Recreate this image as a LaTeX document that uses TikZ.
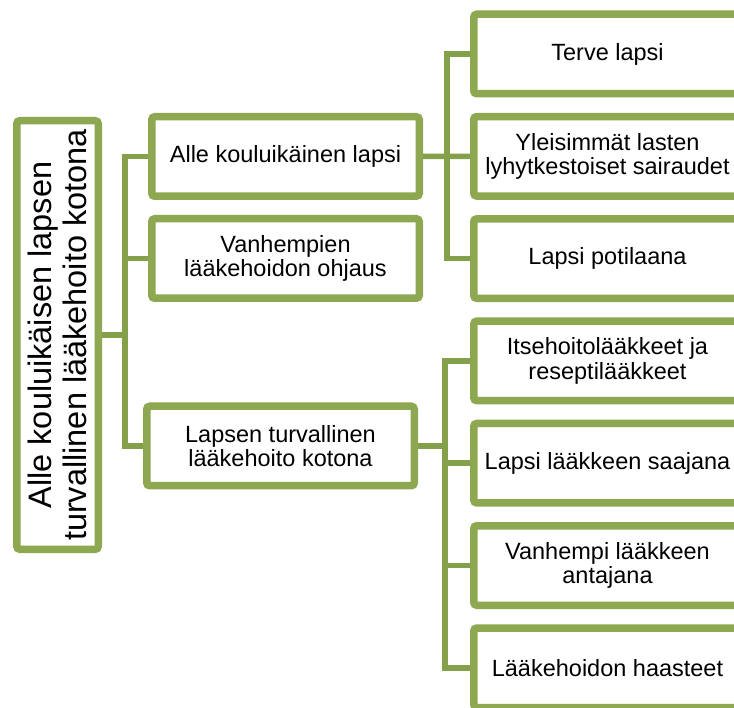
\documentclass[tikz,border=0pt]{standalone}
\usepackage{fontspec}
\setmainfont{Liberation Sans}
\usepackage{tikz}
\usetikzlibrary{positioning,shadows}
\definecolor{olive}{RGB}{141, 168, 80}
\definecolor{darkolive}{RGB}{132, 160, 74}
\tikzstyle{rootbox} = [rectangle, rounded corners=3pt, draw=olive, line width=7.5pt, fill=white, text=black, align=center, font=\fontsize{32.5}{35}\selectfont, rotate=90, minimum width=428.5pt, minimum height=81.5pt, inner sep=0pt, drop shadow={shadow xshift=-2.5pt, shadow yshift=-1pt, opacity=0.22}]
\tikzstyle{box} = [rectangle, rounded corners=3pt, draw=olive, line width=7.5pt, fill=white, text=black, align=center, font=\fontsize{23.5}{24.5}\selectfont, minimum width=267.5pt, minimum height=79.5pt, inner sep=0pt, drop shadow={shadow xshift=1pt, shadow yshift=-2.5pt, opacity=0.22}]
\tikzstyle{link} = [draw=darkolive, line width=5.5pt]

\begin{document}
\begin{tikzpicture}[x=1pt, y=1pt]
\useasboundingbox (0,0) rectangle (734,-708);
\clip (0,0) rectangle (734,-708);

% boxes =============================
\node[rootbox] (root) at (57.5,-335) {Alle kouluikäisen lapsen\\turvallinen lääkehoito kotona};
\node[box] (kid) at (285.5,-156.5) {Alle kouluikäinen lapsi};
\node[box, below=15pt of kid] (guide) {Vanhempien\\lääkehoidon ohjaus};
\node[box] (safe) at (280.5,-446) {Lapsen turvallinen\\lääkehoito kotona};

\node[box] (healthy) at (607.5,-54) {Terve lapsi};
\node[box, below=15.3pt of healthy] (ill) {Yleisimmät lasten\\lyhytkestoiset sairaudet};
\node[box, below=15.3pt of ill] (patient) {Lapsi potilaana};
\node[box, below=15.3pt of patient] (drugs) {Itsehoitolääkkeet ja\\reseptilääkkeet};
\node[box, below=15.3pt of drugs] (receiver) {Lapsi lääkkeen saajana};
\node[box, below=15.3pt of receiver] (giver) {Vanhempi lääkkeen\\antajana};
\node[box, below=15.3pt of giver] (issues) {Lääkehoidon haasteet};

% edges
\draw[link] (root.south) -- ++(23,0) |- (kid.west);
\draw[link] (root.south) -- ++(23,0) |- (guide.west);
\draw[link] (root.south) -- ++(23,0) |- (safe.west);

\draw[link] (kid.east) -- ++(24,0) |- (healthy.west);
\draw[link] (kid.east) -- (ill.west);
\draw[link] (kid.east) -- ++(24,0) |- (patient.west);

\draw[link] (safe.east) -- ++(27,0) |- (drugs.west);
\draw[link] (safe.east) -- ++(27,0) |- (receiver.west);
\draw[link] (safe.east) -- ++(27,0) |- (giver.west);
\draw[link] (safe.east) -- ++(27,0) |- (issues.west);

\end{tikzpicture}
\end{document}
